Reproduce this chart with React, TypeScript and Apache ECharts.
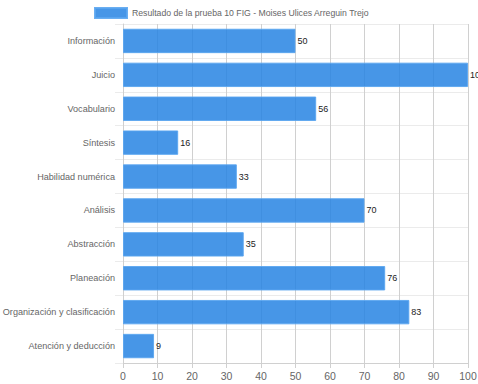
import React, { useEffect, useRef } from "react";
import * as echarts from "echarts";

const categories = [
  "Información",
  "Juicio",
  "Vocabulario",
  "Síntesis",
  "Habilidad numérica",
  "Análisis",
  "Abstracción",
  "Planeación",
  "Organización y clasificación",
  "Atención y deducción",
];
const values = [50, 100, 56, 16, 33, 70, 35, 76, 83, 9];
const seriesName = "Resultado de la prueba 10 FIG - Moises Ulices Arreguin Trejo";
const xTicks = { min: 0, max: 100, interval: 10 };

export default function App() {
  const ref = useRef<HTMLDivElement>(null);
  useEffect(() => {
    if (!ref.current) return;
    const chart = echarts.init(ref.current, undefined, { renderer: "svg" });
    const font = "'Liberation Sans', Arial, sans-serif";
    chart.setOption({
      animation: false,
      textStyle: { fontFamily: font },
      legend: {
        top: 7,
        left: 94,
        padding: 0,
        itemWidth: 32,
        itemHeight: 10,
        itemGap: 4,
        icon: "rect",
        textStyle: { color: "#666", fontSize: 8.7, fontFamily: font },
        data: [seriesName],
      },
      grid: { left: 123, right: 10, top: 24, bottom: 21, containLabel: false, outerBoundsMode: "none" },
      xAxis: {
        type: "value",
        min: xTicks.min,
        max: xTicks.max,
        interval: xTicks.interval,
        axisLine: { show: true, lineStyle: { color: "#d0d0d0" } },
        axisTick: { show: true, length: 5, lineStyle: { color: "#d0d0d0" } },
        splitLine: { show: true, lineStyle: { color: "#d0d0d0", width: 1 } },
        axisLabel: { color: "#666", fontSize: 10.5, margin: 7, fontFamily: font },
      },
      yAxis: {
        type: "category",
        inverse: true,
        data: categories,
        axisLine: { show: true, lineStyle: { color: "#d0d0d0" } },
        axisTick: { show: true, length: 8, lineStyle: { color: "#ebebeb" } },
        splitLine: { show: true, lineStyle: { color: "#ebebeb", width: 1 } },
        axisLabel: { color: "#666", fontSize: 9.1, margin: 8, fontFamily: font },
      },
      series: [
        {
          name: seriesName,
          type: "bar",
          data: values,
          barCategoryGap: "28%",
          z: 1,
          itemStyle: {
            color: "rgba(39,132,227,0.85)",
            borderColor: "rgba(90,165,240,0.9)",
            borderWidth: 1,
          },
          label: {
            show: true,
            position: "right",
            distance: 2,
            color: "#222",
            fontSize: 9,
            fontFamily: font,
          },
        },
      ],
    });
    return () => chart.dispose();
  }, []);
  return (
    <div
      ref={ref}
      style={{ position: "absolute", left: 0, top: 0, width: 478, height: 384, background: "#fff" }}
    />
  );
}
